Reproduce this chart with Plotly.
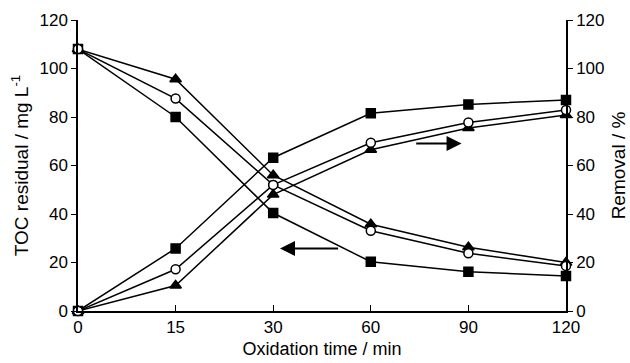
import plotly.graph_objects as go

times = ["0", "15", "30", "60", "90", "120"]
toc_square = [108, 80, 40.4, 20.3, 16.2, 14.4]
toc_circle = [108, 87.6, 52, 33.1, 23.8, 18.6]
toc_triangle = [108, 95.6, 56, 35.8, 26.3, 20.0]
rem_square = [0, 25.8, 63.2, 81.5, 85.2, 87.0]
rem_circle = [0, 17.2, 52, 69.4, 77.7, 82.9]
rem_triangle = [0, 10.5, 48, 66.5, 75.5, 80.8]
y_ticks = [0, 20, 40, 60, 80, 100, 120]

FONT = "Liberation Sans, Arial, sans-serif"
fig = go.Figure()

def add(y, sym, fill, yaxis, size):
    fig.add_trace(go.Scatter(
        x=times, y=y, mode="lines+markers", yaxis=yaxis,
        line=dict(color="black", width=1.5),
        marker=dict(symbol=sym, size=size, color=fill, line=dict(color="black", width=1.5)),
        cliponaxis=False, showlegend=False))

add(toc_triangle, "triangle-up", "black", "y", 10)
add(toc_square, "square", "black", "y", 9)
add(toc_circle, "circle", "white", "y", 9)
add(rem_triangle, "triangle-up", "black", "y2", 10)
add(rem_square, "square", "black", "y2", 9)
add(rem_circle, "circle", "white", "y2", 9)

# arrows pointing to the relevant axis
fig.add_annotation(x=2.07, y=25.8, ax=2.68, ay=25.8, xref="x", yref="y", axref="x", ayref="y",
                   showarrow=True, arrowhead=2, arrowsize=1.5, arrowwidth=2, arrowcolor="black", text="")
fig.add_annotation(x=3.93, y=69.1, ax=3.45, ay=69.1, xref="x", yref="y", axref="x", ayref="y",
                   showarrow=True, arrowhead=2, arrowsize=1.5, arrowwidth=2, arrowcolor="black", text="")

fig.update_layout(
    width=630, height=363, margin=dict(l=78, r=64, t=20, b=52),
    paper_bgcolor="white", plot_bgcolor="white",
    font=dict(family=FONT, size=17, color="black"),
    xaxis=dict(type="category", categoryorder="array", categoryarray=times, automargin=False,
               range=[0, 5], showline=True, linecolor="black", linewidth=1.5,
               ticks="inside", ticklen=6, tickcolor="black", showgrid=False, zeroline=False,
               tickfont=dict(size=17),
               title=dict(text="Oxidation time / min", font=dict(size=18), standoff=6)),
    yaxis=dict(range=[0, 120], tickvals=y_ticks, showline=True, linecolor="black", linewidth=1.5,
               automargin=False,
               ticks="outside", ticklen=5, tickcolor="black", showgrid=False, zeroline=False,
               tickfont=dict(size=17),
               title=dict(text="TOC residual / mg L<sup>-1</sup>", font=dict(size=19), standoff=6)),
    yaxis2=dict(range=[0, 120], tickvals=y_ticks, overlaying="y", side="right",
                showline=True, linecolor="black", linewidth=1.5, automargin=False,
                ticks="outside", ticklen=5, tickcolor="black", showgrid=False, zeroline=False,
                tickfont=dict(size=17),
                title=dict(text="Removal / %", font=dict(size=19), standoff=8)),
)

fig.write_html("out.html")
